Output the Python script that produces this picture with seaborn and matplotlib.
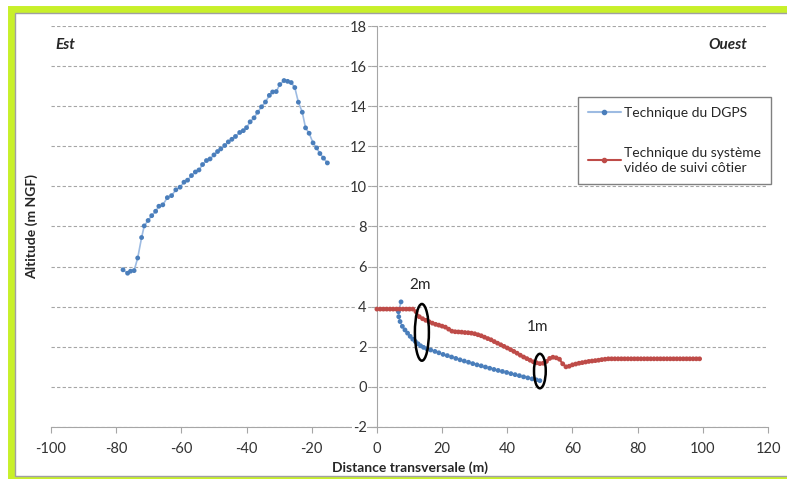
"""Profil transversal : comparaison DGPS / systeme video de suivi cotier."""
import numpy as np
import pandas as pd
import seaborn as sns
import matplotlib.pyplot as plt
from matplotlib.lines import Line2D
from matplotlib.patches import Ellipse, Rectangle

# DGPS, partie est (dune)
dgps_est_x = [-77.9, -76.5, -75.6, -74.5, -73.4, -72.2, -71.4, -70.2, -69.1, -67.9,
              -66.9, -65.7, -64.3, -63.0, -61.7, -60.4, -59.2, -58.1, -56.9, -55.7,
              -54.6, -53.5, -52.3, -51.2, -50.0, -48.9, -47.9, -46.7, -45.6, -44.5,
              -43.4, -42.1, -41.0, -40.0, -38.9, -37.7, -36.6, -35.4, -34.2, -33.0,
              -32.0, -30.9, -29.8, -28.5, -27.4, -26.3, -25.2, -24.1, -22.9, -21.9,
              -20.8, -19.6, -18.5, -17.5, -16.4, -15.2]
dgps_est_y = [5.84, 5.67, 5.77, 5.80, 6.43, 7.45, 8.03, 8.30, 8.54, 8.76,
              9.01, 9.08, 9.44, 9.54, 9.83, 9.96, 10.21, 10.31, 10.54, 10.72,
              10.82, 11.09, 11.29, 11.37, 11.57, 11.74, 11.87, 12.04, 12.22, 12.35,
              12.49, 12.69, 12.78, 12.93, 13.22, 13.42, 13.70, 13.97, 14.21, 14.54,
              14.71, 14.73, 15.08, 15.28, 15.24, 15.18, 14.93, 14.20, 13.70, 12.92,
              12.65, 12.17, 11.92, 11.64, 11.41, 11.17]

# DGPS, partie ouest (plage)
dgps_ouest_x = [7.4, 6.6, 6.7, 7.1, 7.8, 8.6, 9.4, 10.2, 11.0, 11.8,
                12.6, 13.4, 14.3, 15.3, 16.5, 17.8, 19.0, 20.3, 21.6, 22.9,
                24.2, 25.5, 26.8, 28.1, 29.4, 30.7, 32.0, 33.3, 34.6, 35.9,
                37.2, 38.5, 39.8, 41.1, 42.4, 43.7, 45.0, 46.3, 47.6, 48.9, 50.0]
dgps_ouest_y = [4.24, 3.75, 3.50, 3.26, 3.02, 2.84, 2.68, 2.52, 2.38, 2.26,
                2.15, 2.05, 1.97, 1.90, 1.84, 1.77, 1.70, 1.62, 1.56, 1.49,
                1.42, 1.35, 1.29, 1.23, 1.16, 1.10, 1.05, 0.99, 0.93, 0.87,
                0.82, 0.77, 0.72, 0.66, 0.61, 0.56, 0.50, 0.45, 0.40, 0.35, 0.31]

# Systeme video de suivi cotier
video_x = list(range(0, 100))
video_y = [3.88, 3.88, 3.88, 3.88, 3.88, 3.88, 3.88, 3.88, 3.88, 3.88,
           3.88, 3.88, 3.75, 3.50, 3.40, 3.32, 3.25, 3.18, 3.12, 3.08,
           3.03, 2.98, 2.88, 2.78, 2.75, 2.74, 2.73, 2.71, 2.70, 2.68,
           2.65, 2.60, 2.55, 2.48, 2.41, 2.35, 2.26, 2.18, 2.10, 2.02,
           1.94, 1.86, 1.77, 1.68, 1.58, 1.49, 1.41, 1.33, 1.25, 1.20,
           1.16, 1.18, 1.27, 1.42, 1.48, 1.45, 1.38, 1.15, 1.00, 1.03,
           1.10, 1.14, 1.18, 1.21, 1.24, 1.27, 1.29, 1.31, 1.33, 1.36,
           1.38, 1.40, 1.40, 1.40, 1.40, 1.40, 1.40, 1.40, 1.40, 1.40,
           1.40, 1.40, 1.40, 1.40, 1.40, 1.40, 1.40, 1.40, 1.40, 1.40,
           1.40, 1.40, 1.40, 1.40, 1.40, 1.40, 1.40, 1.40, 1.40, 1.40]

lab_dgps = 'Technique du DGPS'
lab_video = 'Technique du système\nvidéo de suivi côtier'

frames = [
    pd.DataFrame({'x': dgps_est_x, 'y': dgps_est_y, 'tech': lab_dgps, 'seg': 'est'}),
    pd.DataFrame({'x': dgps_ouest_x, 'y': dgps_ouest_y, 'tech': lab_dgps, 'seg': 'ouest'}),
    pd.DataFrame({'x': video_x, 'y': video_y, 'tech': lab_video, 'seg': 'video'}),
]
df = pd.concat(frames, ignore_index=True)

blue = '#4a7ebb'
red = '#be4b48'

sns.set_style('white')
plt.rcParams['font.family'] = ['Lato', 'DejaVu Sans']
plt.rcParams['axes.unicode_minus'] = False

fig = plt.figure(figsize=(7.87, 4.79), dpi=100)
# cadre vert + filet gris
fig.patches.append(Rectangle((0.0135, -0.002), 1.2, 0.984, transform=fig.transFigure,
                             facecolor='none', edgecolor='#c8f02a', linewidth=5, zorder=-2))
fig.patches.append(Rectangle((0.0195, 0.006), 1.2, 0.967, transform=fig.transFigure,
                             facecolor='none', edgecolor='#a0a0a0', linewidth=1, zorder=-1))
ax = fig.add_axes([0.0648, 0.1086, 0.9111, 0.8371])

# lignes
sns.lineplot(data=df[df.tech == lab_dgps], x='x', y='y', units='seg', estimator=None,
             sort=False, color='#9dbbe2', linewidth=1.2, legend=False, ax=ax)
sns.lineplot(data=df[df.tech == lab_video], x='x', y='y', units='seg', estimator=None,
             sort=False, color=red, linewidth=1.5, legend=False, ax=ax)
# points
sns.scatterplot(data=df, x='x', y='y', hue='tech', palette={lab_dgps: blue, lab_video: red},
                s=12, linewidth=0, legend=False, ax=ax, zorder=3)

ax.set_xlim(-100, 120)
ax.set_ylim(-2, 18)
ax.set_xticks(np.arange(-100, 121, 20))
ax.set_yticks(np.arange(-2, 19, 2))
ax.yaxis.grid(True, linestyle=(0, (3, 2)), color='#a6a6a6', linewidth=0.8)
ax.xaxis.grid(False)

for s in ['top', 'right']:
    ax.spines[s].set_visible(False)
ax.spines['left'].set_position(('data', 0))
ax.spines['left'].set_color('#a6a6a6')
ax.spines['bottom'].set_color('#a6a6a6')
ax.spines['bottom'].set_zorder(0.4)
ax.tick_params(axis='both', direction='out', length=4, color='#a6a6a6',
               labelsize=10.5, labelcolor='#333333', bottom=True, left=True)
ax.tick_params(axis='x', pad=7)
ax.set_facecolor('none')
ax.set_axisbelow(True)
for t in ax.get_yticklabels():
    t.set_bbox(dict(facecolor='white', edgecolor='none', pad=0.6))

ax.set_xlabel('Distance transversale (m)', fontsize=10, fontweight='bold', labelpad=4)
ax.set_ylabel('Altitude (m NGF)', fontsize=10, fontweight='bold')
ax.yaxis.set_label_coords(-0.018, 0.5, transform=ax.transAxes)

ax.text(-98.5, 17.05, 'Est', fontsize=11, fontweight='bold', style='italic', va='center')
ax.text(113.5, 17.05, 'Ouest', fontsize=11, fontweight='bold', style='italic',
        va='center', ha='right')

# ecarts
ax.add_patch(Ellipse((13.8, 2.72), 4.3, 2.83, fill=False, edgecolor='black', linewidth=1.8, zorder=4))
ax.add_patch(Ellipse((50.0, 0.79), 3.6, 1.72, fill=False, edgecolor='black', linewidth=1.8, zorder=4))
ax.text(13.2, 5.1, '2m', fontsize=11, ha='center', va='center')
ax.text(49.4, 3.0, '1m', fontsize=11, ha='center', va='center')

handles = [Line2D([], [], color='#9dbbe2', marker='o', markersize=3,
                  markerfacecolor=blue, markeredgecolor=blue),
           Line2D([], [], color=red, marker='o', markersize=3,
                  markerfacecolor=red, markeredgecolor=red)]
leg = ax.legend(handles, [lab_dgps, lab_video], loc='upper left',
                bbox_to_anchor=(0.725, 0.84), fontsize=10, frameon=True,
                fancybox=False, edgecolor='#808080', framealpha=1,
                labelspacing=2.0, handlelength=2.4, handletextpad=0.25,
                borderpad=0.7)
leg.get_frame().set_linewidth(1.0)
for t in leg.get_texts():
    t.set_linespacing(1.35)

plt.savefig('out.png', dpi=100)
